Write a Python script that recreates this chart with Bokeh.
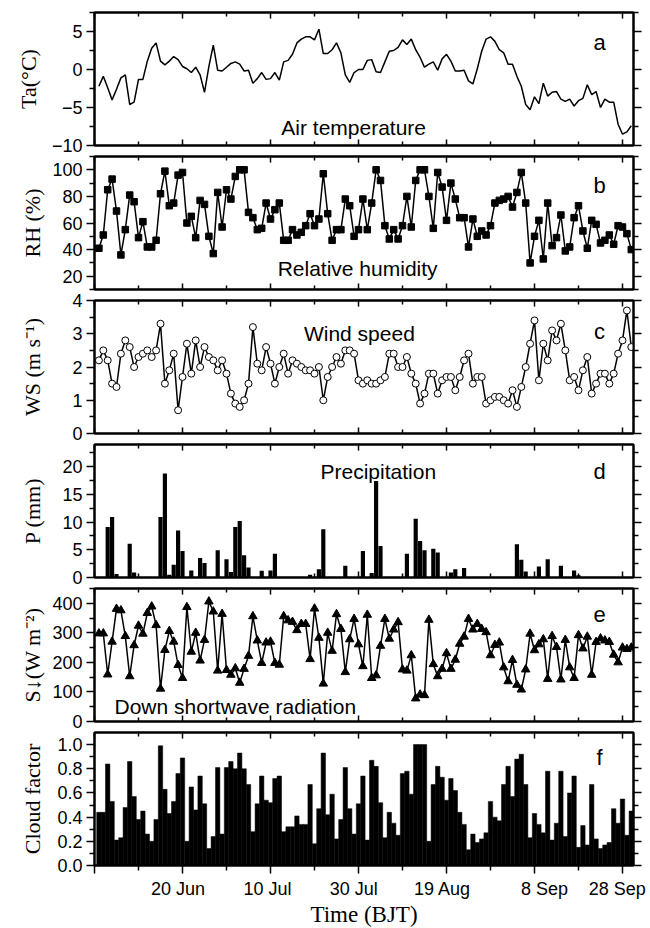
from bokeh.plotting import figure
from bokeh.models import (LinearAxis, FixedTicker, Range1d, Label, PrintfTickFormatter,
                          CustomLabelingPolicy)
from bokeh.layouts import column
from bokeh.embed import file_html
from bokeh.resources import INLINE

# ---------------- data (day 1 = 1 Jun) ----------------
days = list(range(1, 123))

ta = [-2.2, -0.9, -2.4, -4.0, -2.6, -1.1, -0.7, -4.6, -4.3, -1.3,
      -1.3, 1.1, 2.8, 3.5, 1.1, 0.6, 1.1, 1.7, 1.3, 0.4,
      0.1, -0.4, 0.3, -0.7, -3.0, 0.4, 3.2, -0.1, -0.2, 0.3,
      0.8, 1.0, 0.7, -0.2, -0.1, -1.8, -1.2, -0.4, -1.3, -1.2,
      -0.4, -1.4, 1.0, 1.2, 2.0, 3.5, 4.0, 4.3, 4.3, 3.9,
      5.3, 2.1, 2.1, 2.6, 3.5, 2.2, -0.7, -1.7, -0.4, 0.0,
      0.0, 1.2, 1.3, -0.3, -0.4, 1.0, 2.4, 2.5, 2.9, 3.9,
      3.3, 4.0, 2.6, 1.6, 0.3, 0.7, 1.0, -0.1, 1.4, 2.0,
      1.1, -0.2, -0.2, -0.1, -1.5, -1.9, 0.1, 2.4, 4.0, 4.3,
      3.7, 2.6, 2.2, 0.7, 0.7, -0.9, -2.2, -4.6, -5.3, -3.6,
      -4.5, -1.8, -3.5, -3.0, -2.9, -3.9, -4.2, -3.9, -4.8, -4.1,
      -3.8, -2.0, -3.3, -2.9, -5.0, -3.9, -4.3, -4.3, -7.2, -8.5,
      -8.2, -7.4]

rh = [41, 51, 85, 93, 69, 36, 55, 81, 76, 49,
      61, 42, 42, 47, 82, 99, 73, 75, 96, 98,
      60, 65, 49, 77, 74, 50, 37, 83, 57, 85,
      78, 95, 100, 100, 68, 64, 55, 56, 75, 63,
      70, 75, 47, 47, 55, 51, 53, 58, 67, 58,
      63, 97, 67, 47, 55, 55, 78, 73, 50, 55,
      78, 55, 75, 100, 92, 58, 48, 55, 48, 58,
      80, 57, 92, 100, 100, 80, 56, 98, 87, 62,
      90, 78, 64, 64, 42, 63, 50, 54, 51, 58,
      75, 77, 78, 80, 72, 83, 98, 75, 30, 50,
      62, 33, 75, 43, 49, 66, 39, 42, 64, 73,
      54, 41, 62, 59, 45, 47, 51, 44, 58, 57,
      52, 40]

ws = [2.2, 2.5, 2.2, 1.5, 1.4, 2.4, 2.8, 2.6, 2.0, 2.3,
      2.4, 2.5, 2.3, 2.5, 3.3, 1.5, 1.9, 2.4, 0.7, 1.7,
      2.7, 1.8, 2.8, 2.0, 2.6, 2.3, 2.2, 1.9, 2.2, 1.8,
      1.2, 0.9, 0.8, 1.0, 1.5, 3.2, 2.1, 1.9, 2.6, 2.1,
      1.5, 2.0, 2.4, 1.8, 2.2, 2.1, 2.0, 1.9, 1.9, 1.8,
      2.0, 1.0, 1.7, 2.0, 2.3, 2.1, 2.5, 2.5, 2.4, 1.6,
      1.5, 1.6, 1.5, 1.5, 1.6, 1.7, 2.4, 2.4, 2.0, 2.0,
      2.3, 1.8, 1.5, 0.9, 1.2, 1.8, 1.8, 1.2, 1.6, 1.7,
      1.7, 1.3, 1.7, 2.2, 2.4, 1.5, 1.7, 1.7, 0.9, 1.0,
      1.1, 1.1, 1.0, 0.9, 1.3, 0.8, 1.4, 2.0, 2.7, 3.4,
      1.6, 2.7, 2.2, 3.1, 2.8, 3.3, 2.5, 1.6, 1.7, 1.3,
      1.9, 2.3, 1.2, 1.5, 1.8, 1.8, 1.5, 1.8, 2.4, 2.8,
      3.7, 2.6]

precip = [0, 0, 9.1, 10.9, 0.65, 0, 0, 6.1, 0.9, 0,
          0, 0, 0, 0, 10.9, 18.75, 0.5, 2.3, 8.5, 4.8,
          0, 1.25, 0, 3.5, 2.6, 0, 0, 4.9, 0, 3.3,
          1.0, 9.1, 10.2, 4.0, 1.8, 0, 0, 1.2, 0, 1.25,
          4.3, 0, 0, 0, 0, 0, 0, 0, 0.5, 0,
          1.5, 8.7, 0, 0, 0, 0, 2.1, 0, 0, 0,
          4.8, 0, 0.8, 17.4, 5.7, 0, 0, 0, 0, 0,
          4.3, 0, 10.6, 6.6, 4.9, 0, 5.2, 4.5, 0, 0,
          0.9, 1.5, 0, 1.7, 0, 0, 0, 0, 0, 0,
          0, 0, 0, 0, 0, 6.0, 3.2, 1.1, 0, 0,
          2.0, 0, 3.3, 0, 0, 2.1, 0, 0, 1.25, 0.4,
          0, 0, 0, 0, 0, 0, 0, 0, 0, 0,
          0, 0]

swd = [298, 298, 159, 270, 381, 376, 289, 153, 258, 324,
       297, 367, 389, 326, 111, 242, 306, 270, 191, 147,
       387, 236, 300, 206, 276, 406, 372, 172, 364, 174,
       158, 180, 131, 178, 222, 356, 274, 198, 267, 270,
       198, 192, 356, 342, 337, 309, 330, 330, 211, 382,
       283, 128, 300, 239, 363, 313, 167, 278, 347, 261,
       187, 361, 147, 156, 256, 347, 280, 311, 336, 176,
       172, 224, 78, 91, 89, 344, 194, 153, 178, 231,
       178, 209, 263, 287, 347, 311, 330, 313, 302, 224,
       259, 267, 183, 136, 208, 124, 108, 176, 297, 241,
       261, 278, 144, 289, 252, 142, 276, 183, 147, 292,
       247, 287, 158, 269, 281, 274, 269, 226, 200, 250,
       245, 250]

cloud = [0.44, 0.44, 0.84, 0.53, 0.21, 0.23, 0.48, 0.86, 0.57, 0.38,
         0.45, 0.26, 0.20, 0.38, 0.99, 0.63, 0.43, 0.53, 0.76, 0.89,
         0.20, 0.65, 0.46, 0.74, 0.51, 0.14, 0.24, 0.81, 0.26, 0.81,
         0.86, 0.80, 0.93, 0.80, 0.67, 0.28, 0.51, 0.74, 0.54, 0.52,
         0.72, 0.74, 0.28, 0.32, 0.32, 0.41, 0.34, 0.34, 0.67, 0.18,
         0.47, 0.93, 0.42, 0.59, 0.22, 0.38, 0.81, 0.47, 0.26, 0.51,
         0.74, 0.21, 0.87, 0.82, 0.52, 0.23, 0.44, 0.35, 0.25, 0.76,
         0.78, 0.59, 1.0, 1.0, 1.0, 0.20, 0.67, 0.82, 0.73, 0.54,
         0.72, 0.62, 0.44, 0.34, 0.13, 0.26, 0.19, 0.22, 0.27, 0.53,
         0.40, 0.37, 0.67, 0.82, 0.57, 0.88, 0.92, 0.67, 0.23, 0.43,
         0.34, 0.27, 0.78, 0.21, 0.35, 0.78, 0.24, 0.60, 0.74, 0.15,
         0.33, 0.17, 0.67, 0.22, 0.14, 0.17, 0.19, 0.47, 0.35, 0.55,
         0.25, 0.45]

x_major = [0, 20, 40, 60, 80, 100, 120]
x_minor = [10, 30, 50, 70, 90, 110]
date_labels = ["20 Jun", "10 Jul", "30 Jul", "19 Aug", "8 Sep", "28 Sep"]
date_label_pos = [19.0, 39.3, 58.9, 79.1, 102.3, 118.8]

SANS = "Liberation Sans"
SERIF = "Liberation Serif"
TICK_FS = "18px"
YLAB_FS = "22px"
OVERLAP = 12  # extra canvas above/below each panel so edge tick labels are not clipped

NO_LABELS = """
try {
  for (let i = 0; i < indices.size; i++) { indices.unset(i) }
} catch (e) {}
return indices
"""


def hide_labels(ax):
    ax.major_label_text_font_size = "0px"
    ax.major_label_standoff = 0
    ax.major_label_policy = CustomLabelingPolicy(code=NO_LABELS)


def style_ticks(ax, tin, tout, mtin, mtout):
    ax.major_tick_in = tin
    ax.major_tick_out = tout
    ax.minor_tick_in = mtin
    ax.minor_tick_out = mtout
    ax.axis_line_width = 2
    ax.major_tick_line_width = 1.5
    ax.minor_tick_line_width = 1.5
    ax.axis_line_color = "black"
    ax.major_tick_line_color = "black"
    ax.minor_tick_line_color = "black"


def xaxis_in():
    ax = LinearAxis(ticker=FixedTicker(ticks=x_major, minor_ticks=x_minor))
    style_ticks(ax, 6, 0, 4, 0)
    hide_labels(ax)
    return ax


def make_panel(ylim, ymajor, yminor, ylabel, standoff, first=False, bottom=False, fmt=None):
    kw = dict(frame_width=539, frame_height=133,
              x_range=Range1d(0, 122.5), y_range=Range1d(*ylim),
              output_backend="svg", toolbar_location=None,
              x_axis_location=None, y_axis_location=None,
              min_border_left=94, min_border_right=17,
              min_border_top=12 if first else 5 + OVERLAP,
              min_border_bottom=6 if bottom else 6 + OVERLAP)
    if not first:
        kw["margin"] = (-2 * OVERLAP, 0, 0, 0)
    p = figure(**kw)
    p.grid.visible = False
    p.outline_line_color = "black"
    p.outline_line_width = 2
    p.background_fill_color = None
    p.border_fill_color = None

    yl = LinearAxis(ticker=FixedTicker(ticks=ymajor, minor_ticks=yminor))
    style_ticks(yl, 0, 8, 0, 5)
    yl.axis_label = ylabel
    yl.axis_label_text_font = SERIF
    yl.axis_label_text_font_size = YLAB_FS
    yl.axis_label_text_font_style = "normal"
    yl.axis_label_text_color = "black"
    yl.axis_label_standoff = standoff
    yl.major_label_text_font = SANS
    yl.major_label_text_font_size = TICK_FS
    yl.major_label_text_color = "black"
    yl.major_label_standoff = 4
    if fmt is not None:
        yl.formatter = fmt
    p.add_layout(yl, "left")

    yr = LinearAxis(ticker=FixedTicker(ticks=ymajor, minor_ticks=yminor))
    style_ticks(yr, 0, 8, 0, 5)
    hide_labels(yr)
    p.add_layout(yr, "right")

    p.add_layout(xaxis_in(), "above")
    if not bottom:
        p.add_layout(xaxis_in(), "below")
    else:
        xb = LinearAxis(ticker=FixedTicker(ticks=x_major, minor_ticks=x_minor))
        style_ticks(xb, 0, 8, 0, 5)
        hide_labels(xb)
        p.add_layout(xb, "below")

        xl = LinearAxis(ticker=FixedTicker(ticks=date_label_pos, minor_ticks=[]))
        xl.major_label_overrides = {pos: lab for pos, lab in zip(date_label_pos, date_labels)}
        xl.axis_line_color = None
        xl.major_tick_line_color = None
        xl.minor_tick_line_color = None
        xl.major_tick_out = 0
        xl.major_tick_in = 0
        xl.minor_tick_out = 0
        xl.minor_tick_in = 0
        xl.major_label_standoff = 5
        xl.major_label_text_font = SANS
        xl.major_label_text_font_size = TICK_FS
        xl.major_label_text_color = "black"
        xl.axis_label = "Time (BJT)"
        xl.axis_label_text_font = SERIF
        xl.axis_label_text_font_size = "23px"
        xl.axis_label_text_font_style = "normal"
        xl.axis_label_text_color = "black"
        xl.axis_label_standoff = 0
        p.add_layout(xl, "below")
    return p


def note(p, x, y, text, size="21px"):
    p.add_layout(Label(x=x, y=y, text=text, text_font=SANS, text_font_size=size,
                       text_color="black", text_align="center", text_baseline="alphabetic"))


LETTER_X = 114.8

# a: air temperature
pa = make_panel((-10, 7.5), [-10, -5, 0, 5], [-7.5, -2.5, 2.5, 7.5], "Ta(°C)", 8, first=True)
pa.line(days, ta, line_color="black", line_width=1.5)
note(pa, 58.9, -7.63, "Air temperature")
note(pa, LETTER_X, 3.55, "a", "22px")

# b: relative humidity
pb = make_panel((10, 110), [20, 40, 60, 80, 100], [10, 30, 50, 70, 90, 110], "RH (%)", 4)
pb.line(days, rh, line_color="black", line_width=1.5)
pb.scatter(days, rh, marker="square", size=6.5, fill_color="black", line_color="black")
note(pb, 59.8, 25.6, "Relative humidity")
note(pb, LETTER_X, 88.2, "b", "22px")

# c: wind speed
pc = make_panel((0, 4), [0, 1, 2, 3, 4], [0.5, 1.5, 2.5, 3.5], "WS (m s⁻¹)", 24)
pc.line(days, ws, line_color="black", line_width=1.5)
pc.scatter(days, ws, marker="circle", size=7, fill_color="white", line_color="black", line_width=1)
note(pc, 60.2, 3.0, "Wind speed")
note(pc, LETTER_X, 3.07, "c", "22px")

# d: precipitation
pd_ = make_panel((0, 24), [0, 5, 10, 15, 20], [2.5, 7.5, 12.5, 17.5, 22.5], "P (mm)", 14)
pd_.vbar(x=days, top=precip, width=0.95, fill_color="black", line_color=None)
note(pd_, 64.5, 19.1, "Precipitation")
note(pd_, LETTER_X, 19.1, "d", "22px")

# e: downward shortwave radiation
pe = make_panel((0, 450), [0, 100, 200, 300, 400], [50, 150, 250, 350, 450], "S↓(W m⁻²)", 4)
pe.line(days, swd, line_color="black", line_width=1.5)
pe.scatter(days, swd, marker="triangle", size=8.5, fill_color="black", line_color="black")
note(pe, 32.0, 50, "Down shortwave radiation")
note(pe, LETTER_X, 362, "e", "22px")

# f: cloud factor
pf = make_panel((0, 1.1), [0, 0.2, 0.4, 0.6, 0.8, 1.0], [0.1, 0.3, 0.5, 0.7, 0.9],
                "Cloud factor", 9, bottom=True, fmt=PrintfTickFormatter(format="%.1f"))
pf.vbar(x=days, top=cloud, width=1.0, fill_color="black", line_color="black", line_width=0.5)
note(pf, LETTER_X, 0.893, "f", "22px")

layout = column(pa, pb, pc, pd_, pe, pf, spacing=0)
open("out.html", "w").write(file_html(layout, INLINE))
